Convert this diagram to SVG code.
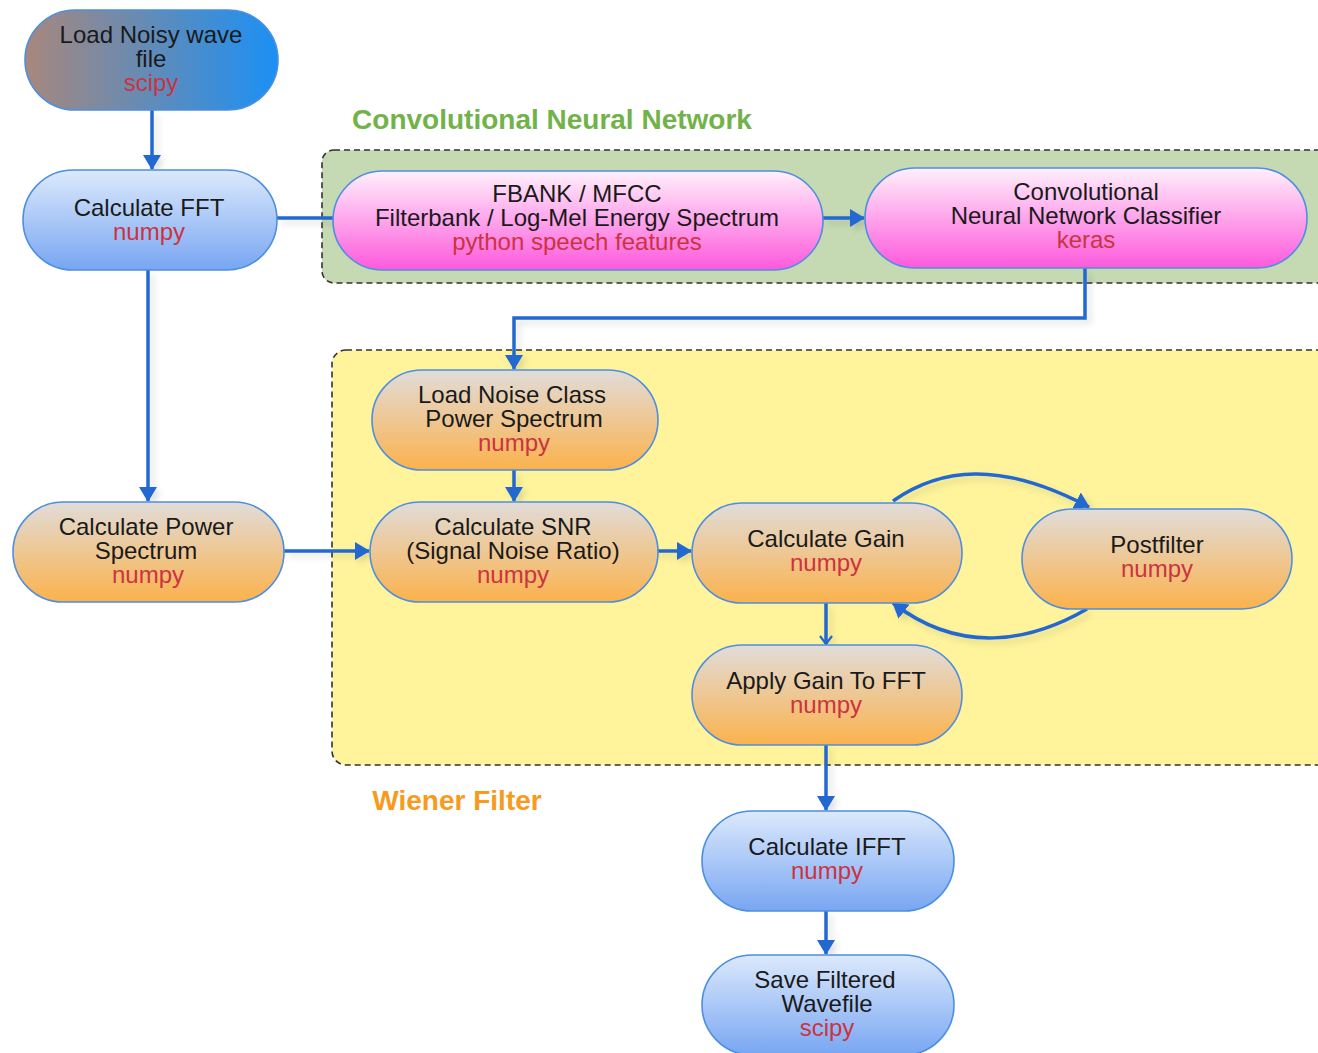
<svg xmlns="http://www.w3.org/2000/svg" width="1318" height="1053" viewBox="0 0 1318 1053">
<defs>
<linearGradient id="gLoad" x1="0" y1="0" x2="1" y2="0"><stop offset="0" stop-color="#a8877c"/><stop offset="1" stop-color="#1a90f5"/></linearGradient>
<linearGradient id="gBlue" x1="0" y1="0" x2="0" y2="1"><stop offset="0" stop-color="#dce9fc"/><stop offset="1" stop-color="#78a6f2"/></linearGradient>
<linearGradient id="gPink" x1="0" y1="0" x2="0" y2="1"><stop offset="0" stop-color="#fff0fb"/><stop offset="1" stop-color="#fd59dc"/></linearGradient>
<linearGradient id="gOrange" x1="0" y1="0" x2="0" y2="1"><stop offset="0" stop-color="#e1dcd9"/><stop offset="1" stop-color="#fbb24c"/></linearGradient>
<marker id="arr" viewBox="0 0 15 18" refX="14" refY="9" markerWidth="15" markerHeight="18" orient="auto" markerUnits="userSpaceOnUse"><path d="M0,0 L15,9 L0,18 z" fill="#2468d0"/></marker>
<marker id="open" viewBox="0 0 10 14" refX="9" refY="7" markerWidth="10" markerHeight="14" orient="auto" markerUnits="userSpaceOnUse"><path d="M1,1 L9,7 L1,13" fill="none" stroke="#2468d0" stroke-width="2.2"/></marker>
<filter id="sh" x="-10%" y="-10%" width="130%" height="130%"><feDropShadow dx="4" dy="4" stdDeviation="3" flood-color="#000" flood-opacity="0.12"/></filter>
</defs>
<style>
.n{stroke:#4d8fe0;stroke-width:1.6}
.t{font-family:"Liberation Sans",Arial,sans-serif;font-size:24px;fill:#1a1a1a;text-anchor:middle}
.r{fill:#cc3340}
.c{fill:none;stroke:#2468d0;stroke-width:3.5;stroke-linejoin:miter}
.title{font-family:"Liberation Sans",Arial,sans-serif;font-weight:bold;font-size:28px;text-anchor:middle}
</style>
<rect x="0" y="0" width="1318" height="1053" fill="#ffffff"/>
<g id="cnn-group">
<rect x="322" y="150" width="1010" height="133" rx="12" fill="#c5d9b2" stroke="#333" stroke-width="1.6" stroke-dasharray="6,4"/>
<text class="title" x="552" y="129" fill="#72b24a">Convolutional Neural Network</text>
</g>
<g id="wiener-group">
<rect x="332" y="350" width="1000" height="415" rx="14" fill="#fff49c" stroke="#333" stroke-width="1.6" stroke-dasharray="6,4"/>
<text class="title" x="457" y="810" fill="#f99a1e">Wiener Filter</text>
</g>
<g id="connectors" filter="url(#sh)">
<path class="c" d="M152,110 V169" marker-end="url(#arr)"/>
<path class="c" d="M277,218 H333"/>
<path class="c" d="M823,218 H864" marker-end="url(#arr)"/>
<path class="c" d="M1085,268 V318 H514 V369" marker-end="url(#arr)"/>
<path class="c" d="M148,270 V501" marker-end="url(#arr)"/>
<path class="c" d="M284,551 H369" marker-end="url(#arr)"/>
<path class="c" d="M514,470 V501" marker-end="url(#arr)"/>
<path class="c" d="M638,551 H691" marker-end="url(#arr)"/>
<path class="c" d="M893,501 C940,468 1000,460 1089,507" marker-end="url(#arr)"/>
<path class="c" d="M1087,609 C1030,642 960,655 893,603" marker-end="url(#arr)"/>
<path class="c" d="M826,603 V644" stroke-width="2.5" marker-end="url(#open)"/>
<path class="c" d="M826,745 V810" marker-end="url(#arr)"/>
<path class="c" d="M826,911 V954" marker-end="url(#arr)"/>
</g>
<g id="n-load">
<rect class="n" x="25" y="10" width="253" height="100" rx="50" fill="url(#gLoad)"/>
<text class="t" x="151" y="43">Load Noisy wave</text>
<text class="t" x="151" y="67">file</text>
<text class="t r" x="151" y="91">scipy</text>
</g>
<g id="n-fft">
<rect class="n" x="23" y="170" width="254" height="100" rx="50" fill="url(#gBlue)"/>
<text class="t" x="149" y="216">Calculate FFT</text>
<text class="t r" x="149" y="240">numpy</text>
</g>
<g id="n-fbank">
<rect class="n" x="333" y="171" width="490" height="99" rx="49.5" fill="url(#gPink)"/>
<text class="t" x="577" y="202">FBANK / MFCC</text>
<text class="t" x="577" y="226">Filterbank / Log-Mel Energy Spectrum</text>
<text class="t r" x="577" y="250">python speech features</text>
</g>
<g id="n-cnn">
<rect class="n" x="865" y="168" width="442" height="100" rx="50" fill="url(#gPink)"/>
<text class="t" x="1086" y="200">Convolutional</text>
<text class="t" x="1086" y="224">Neural Network Classifier</text>
<text class="t r" x="1086" y="248">keras</text>
</g>
<g id="n-noise">
<rect class="n" x="372" y="370" width="286" height="100" rx="50" fill="url(#gOrange)"/>
<text class="t" x="512" y="403">Load Noise Class</text>
<text class="t" x="514" y="427">Power Spectrum</text>
<text class="t r" x="514" y="451">numpy</text>
</g>
<g id="n-power">
<rect class="n" x="13" y="502" width="271" height="100" rx="50" fill="url(#gOrange)"/>
<text class="t" x="146" y="535">Calculate Power</text>
<text class="t" x="146" y="559">Spectrum</text>
<text class="t r" x="148" y="583">numpy</text>
</g>
<g id="n-snr">
<rect class="n" x="370" y="502" width="288" height="100" rx="50" fill="url(#gOrange)"/>
<text class="t" x="513" y="535">Calculate SNR</text>
<text class="t" x="513" y="559">(Signal Noise Ratio)</text>
<text class="t r" x="513" y="583">numpy</text>
</g>
<g id="n-gain">
<rect class="n" x="692" y="503" width="270" height="100" rx="50" fill="url(#gOrange)"/>
<text class="t" x="826" y="547">Calculate Gain</text>
<text class="t r" x="826" y="571">numpy</text>
</g>
<g id="n-post">
<rect class="n" x="1022" y="509" width="270" height="100" rx="50" fill="url(#gOrange)"/>
<text class="t" x="1157" y="553">Postfilter</text>
<text class="t r" x="1157" y="577">numpy</text>
</g>
<g id="n-apply">
<rect class="n" x="692" y="645" width="270" height="100" rx="50" fill="url(#gOrange)"/>
<text class="t" x="826" y="689">Apply Gain To FFT</text>
<text class="t r" x="826" y="713">numpy</text>
</g>
<g id="n-ifft">
<rect class="n" x="702" y="811" width="252" height="100" rx="50" fill="url(#gBlue)"/>
<text class="t" x="827" y="855">Calculate IFFT</text>
<text class="t r" x="827" y="879">numpy</text>
</g>
<g id="n-save">
<rect class="n" x="702" y="955" width="252" height="100" rx="50" fill="url(#gBlue)"/>
<text class="t" x="825" y="988">Save Filtered</text>
<text class="t" x="827" y="1012">Wavefile</text>
<text class="t r" x="827" y="1036">scipy</text>
</g>
</svg>
